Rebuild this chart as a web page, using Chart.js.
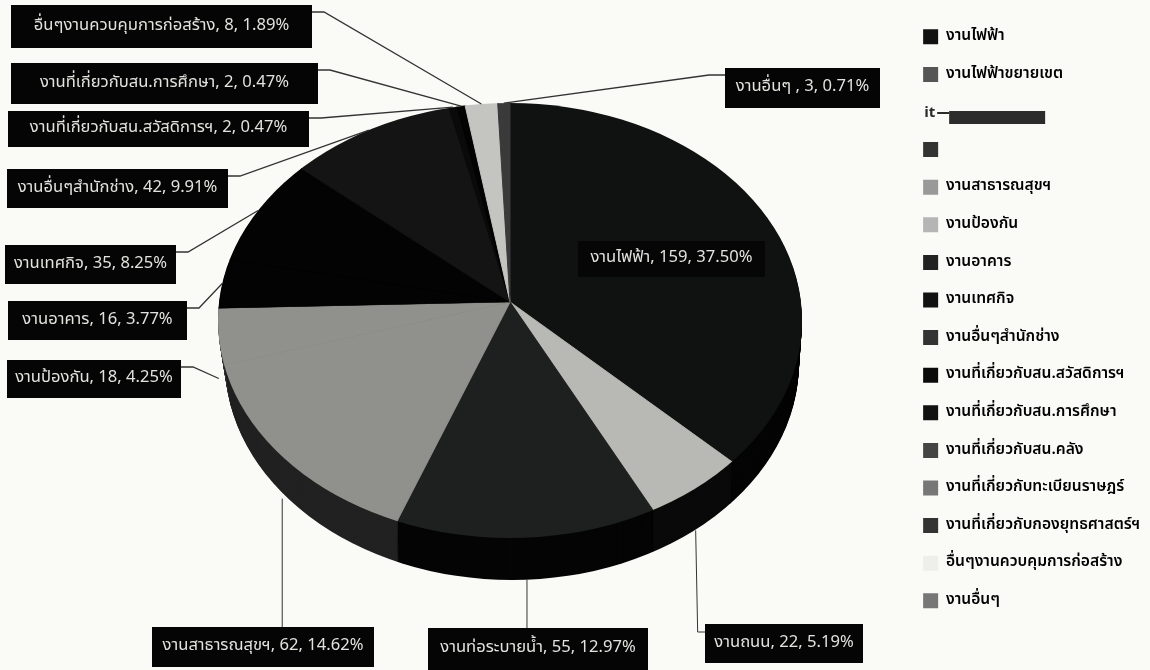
<!DOCTYPE html>
<html>
<head>
<meta charset="utf-8">
<script src="https://cdn.jsdelivr.net/npm/chart.js@4"></script>
<style>
  html, body { margin: 0; padding: 0; background: #fafaf7; }
  #wrap { position: relative; width: 1150px; height: 670px; }
</style>
</head>
<body>
<div id="wrap"><canvas id="pie"></canvas></div>
<script>
// scanned 3D pie, slices run clockwise from 12 o'clock
const categories = [
    'งานไฟฟ้า', 'งานไฟฟ้าขยายเขต', 'งานถนน', 'งานท่อระบายน้ำ', 'งานสาธารณสุขฯ', 'งานป้องกัน',
    'งานอาคาร', 'งานเทศกิจ', 'งานอื่นๆสำนักช่าง', 'งานที่เกี่ยวกับสน.สวัสดิการฯ', 'งานที่เกี่ยวกับสน.การศึกษา',
    'งานที่เกี่ยวกับสน.คลัง', 'งานที่เกี่ยวกับทะเบียนราษฎร์', 'งานที่เกี่ยวกับกองยุทธศาสตร์ฯ',
    'อื่นๆงานควบคุมการก่อสร้าง', 'งานอื่นๆ ',
];
const counts = [159, 0, 22, 55, 62, 18, 16, 35, 42, 2, 2, 0, 0, 0, 8, 3];
const percents = ['37.50', '0', '5.19', '12.97', '14.62', '4.25', '3.77', '8.25', '9.91', '0.47', '0.47', '0', '0', '0', '1.89', '0.71'];
const topColors = ['#101211', '#555555', '#b8b8b4', '#1e201f', '#90908d', '#90908d', '#030303', '#030303', '#141414', '#0a0a0a', '#030303', '#333333', '#777777', '#333333', '#c4c4c0', '#3a3a3a'];
const sideColors = ['#050505', '#222222', '#0a0a0a', '#050505', '#222222', '#333333', '#050505', '#050505', '#050505', '#050505', '#050505', '#050505', '#050505', '#050505', '#333333', '#050505'];
// what is legible in the legend of the scan (3rd and 4th entries are blacked out)
const legendTexts = ['งานไฟฟ้า', 'งานไฟฟ้าขยายเขต', '', '', 'งานสาธารณสุขฯ', 'งานป้องกัน', 'งานอาคาร', 'งานเทศกิจ',
    'งานอื่นๆสำนักช่าง', 'งานที่เกี่ยวกับสน.สวัสดิการฯ', 'งานที่เกี่ยวกับสน.การศึกษา', 'งานที่เกี่ยวกับสน.คลัง',
    'งานที่เกี่ยวกับทะเบียนราษฎร์', 'งานที่เกี่ยวกับกองยุทธศาสตร์ฯ', 'อื่นๆงานควบคุมการก่อสร้าง', 'งานอื่นๆ'];
const legendSwatches = ['#111111', '#555555', 'rgba(0,0,0,0)', '#333333', '#999999', '#b5b5b5', '#222222', '#111111',
    '#333333', '#0a0a0a', '#111111', '#444444', '#777777', '#333333', '#eeeeea', '#777777'];

const FONT = '"Noto Sans Thai", "Noto Sans", Tahoma, "DejaVu Sans", sans-serif';

// the apex sits above the middle of the top face because of the perspective,
// so the arcs are drawn oversized from the apex and clipped to the face outline
const APEX_X = 510, APEX_Y = 302;
const FACE_CX = 510, FACE_CY = 320.5, FACE_RX = 292, FACE_RY = 217.5;
const FLOOR_CX = 512, FLOOR_RX = 287, DEPTH = 42;
const SPOKE_X = 336, SPOKE_Y = 242;

// label boxes [left, top, right, bottom], index follows categories
const labelBoxes = {
    0: [578, 241, 765, 277],
    2: [705, 624, 863, 663],
    3: [428, 628, 648, 670],
    4: [152, 627, 374, 667],
    5: [7, 360, 181, 398],
    6: [8, 301, 187, 340],
    7: [5, 245, 176, 284],
    8: [7, 169, 228, 208],
    9: [8, 111, 309, 147],
    10: [11, 63, 318, 104],
    14: [11, 5, 312, 48],
    15: [725, 68, 880, 108],
};

function drawArcs(chart, arcs, colors, cx, cy, rx, ry, dy) {
    const ctx = chart.ctx;
    const a = arcs[0];
    ctx.save();
    ctx.beginPath();
    ctx.ellipse(cx, cy, rx, ry, 0, 0, Math.PI * 2);
    ctx.clip();
    ctx.translate(APEX_X, APEX_Y + dy);
    ctx.scale(SPOKE_X / a.outerRadius, SPOKE_Y / a.outerRadius);
    ctx.translate(-a.x, -a.y);
    arcs.forEach((arc, i) => {
        if (counts[i] === 0) return;
        const saved = arc.options;
        // same colour border closes the hairline seam between slices
        arc.options = Object.assign({}, saved, { backgroundColor: colors[i], borderColor: colors[i], borderWidth: 1 });
        arc.draw(ctx);
        arc.options = saved;
    });
    ctx.restore();
}

// where the spoke through the middle of a slice leaves the top face
function faceTip(arc) {
    const mid = (arc.startAngle + arc.endAngle) / 2 + Math.PI / 2;
    const dx = SPOKE_X * Math.sin(mid), dy = -SPOKE_Y * Math.cos(mid);
    const ox = (APEX_X - FACE_CX) / FACE_RX, oy = (APEX_Y - FACE_CY) / FACE_RY;
    const ux = dx / FACE_RX, uy = dy / FACE_RY;
    const a = ux * ux + uy * uy, b = 2 * (ox * ux + oy * uy), c = ox * ox + oy * oy - 1;
    const t = (-b + Math.sqrt(b * b - 4 * a * c)) / (2 * a);
    return { x: APEX_X + dx * t, y: APEX_Y + dy * t };
}

const pie3d = {
    id: 'pie3d',
    beforeDatasetsDraw(chart) {
        const arcs = chart.getDatasetMeta(0).data;
        // side wall, stacked from the floor up to the top face
        for (let d = DEPTH; d > 0; d--) {
            const k = d / DEPTH;
            drawArcs(chart, arcs, sideColors, FACE_CX + (FLOOR_CX - FACE_CX) * k, FACE_CY + d,
                FACE_RX + (FLOOR_RX - FACE_RX) * k, FACE_RY, d);
        }
        drawArcs(chart, arcs, topColors, FACE_CX, FACE_CY, FACE_RX, FACE_RY, 0);
        return false;
    },
};

const leaders = {
    id: 'leaders',
    afterDraw(chart) {
        const ctx = chart.ctx;
        const arcs = chart.getDatasetMeta(0).data;
        ctx.save();
        ctx.textBaseline = 'middle';
        ctx.textAlign = 'center';
        ctx.font = '16.6px ' + FONT;
        Object.keys(labelBoxes).forEach(key => {
            const i = Number(key);
            const [l, t, r, b] = labelBoxes[i];
            const tip = faceTip(arcs[i]);
            // front slices: the line ends on the wall, not on the face
            const tipX = tip.x;
            const tipY = tip.y + (tip.y > APEX_Y ? DEPTH : 0);
            if (i !== 0) {
                ctx.strokeStyle = '#333333';
                ctx.lineWidth = t > 600 ? 1 : 1.3;
                ctx.beginPath();
                ctx.moveTo(tipX, tipY);
                if (t > 600) {
                    // labels under the pie
                    if (l > tipX) {
                        ctx.lineTo(tipX + 2, t + 8);
                        ctx.lineTo(l, t + 8);
                    } else {
                        ctx.lineTo(tipX, t);
                    }
                } else if (l > tipX) {
                    ctx.lineTo(l - 16, t + 7);
                    ctx.lineTo(l, t + 7);
                } else {
                    ctx.lineTo(r + 12, t + 7);
                    ctx.lineTo(r, t + 7);
                }
                ctx.stroke();
            }
            ctx.fillStyle = i === 0 ? '#060606' : '#050505';
            ctx.fillRect(l, t, r - l, b - t);
            ctx.fillStyle = '#e2e2de';
            const sep = i === 15 ? ' , ' : ', ';
            ctx.fillText(categories[i].trim() + sep + counts[i] + ', ' + percents[i] + '%', (l + r) / 2, (t + b) / 2);
        });

        // scan defect: the 3rd legend row is covered by a bar
        const row = chart.legend.legendHitBoxes[2];
        ctx.textAlign = 'left';
        ctx.fillStyle = '#2c2c2c';
        ctx.font = 'bold 15px ' + FONT;
        ctx.fillText('it', row.left + 1, row.top + row.height / 2 + 2);
        ctx.fillRect(row.left + 14, row.top + row.height / 2, 12, 2);
        ctx.fillRect(row.left + 26, row.top + row.height / 2 - 1, 96, 13);
        ctx.restore();
    },
};

new Chart(document.getElementById('pie'), {
    type: 'pie',
    data: {
        labels: categories,
        datasets: [{
            data: counts,
            backgroundColor: topColors,
            borderWidth: 0,
        }],
    },
    plugins: [pie3d, leaders],
    options: {
        responsive: true,
        maintainAspectRatio: false,
        animation: false,
        layout: { padding: { top: 7, right: 0, bottom: 0, left: 0 } },
        plugins: {
            tooltip: { enabled: false },
            legend: {
                position: 'right',
                align: 'start',
                labels: {
                    boxWidth: 15,
                    boxHeight: 15,
                    padding: 22,
                    color: '#1c1c1c',
                    font: { family: FONT, size: 15.6, weight: '600' },
                    generateLabels: () => legendTexts.map((text, i) => ({
                        text,
                        fillStyle: legendSwatches[i],
                        strokeStyle: 'rgba(0,0,0,0)',
                        lineWidth: 0,
                        hidden: false,
                        index: i,
                    })),
                },
            },
        },
    },
});
</script>
</body>
</html>
